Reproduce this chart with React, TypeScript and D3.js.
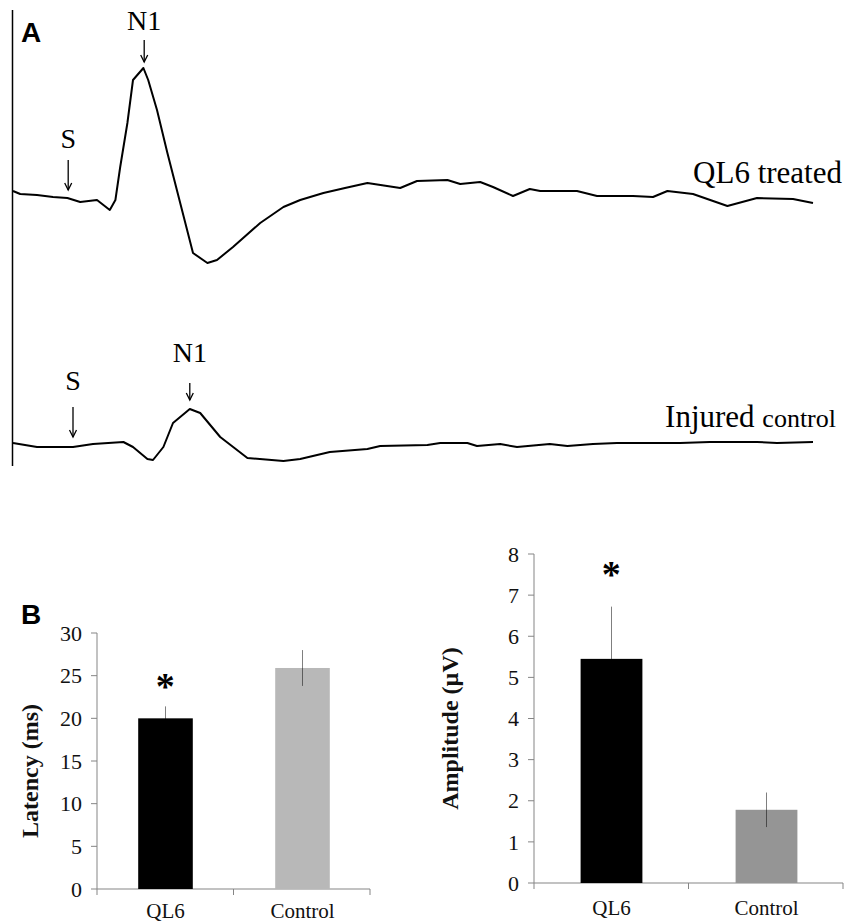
import React from "react";
import * as d3 from "d3";

// ---- panel A: evoked potential traces (time in ms, amplitude in arbitrary units)
const treatedTime = [0, 0.9, 3, 5, 6.8, 8.4, 10.5, 12.1, 12.8, 13.4, 14.3, 15.0, 16.3, 16.9, 18.0, 19.3, 20.9, 22.5, 24.3, 25.5, 27.5, 30.9, 33.8, 35.9, 38.8, 41.5, 44.3, 48.4, 50.5, 54.3, 55.9, 58.4, 60.0, 62.5, 64.6, 65.9, 70.5, 73.0, 77.5, 80, 81.8, 85, 89.3, 93, 97.5, 100];
const treatedAmp = [0, -0.3, -0.4, -0.6, -0.7, -1.1, -0.9, -1.9, -0.9, 2.4, 6.8, 11.1, 12.3, 11.1, 8.1, 3.8, -1.2, -6.2, -7.2, -6.9, -5.6, -3.2, -1.6, -0.9, -0.2, 0.3, 0.8, 0.3, 1.0, 1.1, 0.7, 0.9, 0.4, -0.5, 0.2, 0, 0, -0.5, -0.5, -0.6, 0, -0.3, -1.5, -0.7, -0.8, -1.2];

const controlTime = [0, 3, 7.5, 10, 13.8, 15, 16.8, 17.5, 18.8, 20, 22.1, 23.4, 25.9, 29.3, 33.8, 35.9, 39.6, 44.3, 45.9, 51.8, 53.4, 56.8, 58, 60.9, 63, 67.1, 69.3, 72.5, 75.5, 83.4, 87.1, 93, 95.5, 100];
const controlAmp = [0, -0.4, -0.4, -0.1, 0.1, -0.4, -1.6, -1.7, -0.4, 2.0, 3.4, 3.0, 0.6, -1.5, -1.8, -1.6, -0.9, -0.6, -0.3, -0.2, 0, 0, -0.3, -0.1, -0.4, -0.1, -0.3, -0.1, 0, 0, 0.1, 0.1, 0, 0.1];

// stimulus (S) and N1 marker times
const treatedMarks = [6.9, 16.4];
const controlMarks = [7.5, 22.1];

// ---- panel B: bar charts
const groups = ["QL6", "Control"];
const latency = [20, 25.9];
const latencyErr = [1.4, 2.1];
const latencyTicks = [0, 5, 10, 15, 20, 25, 30];
const amplitude = [5.45, 1.78];
const amplitudeErr = [1.27, 0.42];
const amplitudeTicks = [0, 1, 2, 3, 4, 5, 6, 7, 8];

const serif = "'Liberation Serif', 'Times New Roman', serif";
const sans = "'Liberation Sans', Arial, sans-serif";

function Arrow({ x, y1, y2 }: { x: number; y1: number; y2: number }) {
  return (
    <g stroke="#000" strokeWidth={1.3} fill="none">
      <line x1={x} x2={x} y1={y1} y2={y2} />
      <path d={`M${x - 3.5},${y2 - 7} L${x},${y2} L${x + 3.5},${y2 - 7}`} />
    </g>
  );
}

function BarPanel(props: {
  x0: number; x1: number; yTop: number; yBottom: number;
  max: number; ticks: number[]; values: number[]; errs: number[];
  colors: string[]; label: string; labelX: number; starY: number; catY: number;
}) {
  const { x0, x1, yTop, yBottom, max, ticks, values, errs, colors, label, labelX, starY, catY } = props;
  const x = d3.scaleBand().domain(groups).range([x0, x1]).padding(0);
  const y = d3.scaleLinear().domain([0, max]).range([yBottom, yTop]);
  const bw = x.bandwidth() * 0.4;
  const axis = "#858585";
  const bounds = [x0, ...groups.map((g) => (x(g) as number) + x.bandwidth())];
  return (
    <g>
      {ticks.map((t) => (
        <g key={t} transform={`translate(0,${y(t)})`}>
          <line x1={x0 - 6} x2={x0} stroke={axis} strokeWidth={1} />
          <text x={x0 - 15} dy="0.35em" textAnchor="end" fontFamily={serif} fontSize={22} fill="#111">{t}</text>
        </g>
      ))}
      <line x1={x0} x2={x0} y1={yTop} y2={yBottom} stroke={axis} strokeWidth={1} />
      <line x1={x0} x2={x1} y1={yBottom} y2={yBottom} stroke={axis} strokeWidth={1.2} />
      {bounds.map((b, i) => (
        <line key={i} x1={b} x2={b} y1={yBottom} y2={yBottom + 6} stroke={axis} strokeWidth={1} />
      ))}
      {groups.map((g, i) => {
        const cx = Math.round((x(g) as number) + x.bandwidth() / 2) + 0.5;
        return (
          <g key={g}>
            <rect x={cx - bw / 2} width={bw} y={y(values[i])} height={yBottom - y(values[i])} fill={colors[i]} />
            <line x1={cx} x2={cx} y1={y(values[i] - errs[i])} y2={y(values[i] + errs[i])} stroke="#000" strokeWidth={1} strokeOpacity={0.5} />
            <text x={cx} y={catY} textAnchor="middle" fontFamily={serif} fontSize={21} fill="#111">{g}</text>
          </g>
        );
      })}
      <text x={(x(groups[0]) as number) + x.bandwidth() / 2} y={starY} textAnchor="middle" fontFamily={serif} fontWeight="bold" fontSize={38}>*</text>
      <text transform={`translate(${labelX},${(yTop + yBottom) / 2 + 10}) rotate(-90)`} textAnchor="middle" fontFamily={serif} fontWeight="bold" fontSize={24} fill="#111">{label}</text>
    </g>
  );
}

export default function App() {
  const xTrace = d3.scaleLinear().domain([0, 100]).range([13, 813]);
  const yTreated = d3.scaleLinear().domain([-8, 13]).range([271, 61]);
  const yControl = d3.scaleLinear().domain([-3, 5]).range([473, 393]);

  const lineT = d3.line<number>().x((_, i) => xTrace(treatedTime[i])).y((d) => yTreated(d));
  const lineC = d3.line<number>().x((_, i) => xTrace(controlTime[i])).y((d) => yControl(d));

  const sT = xTrace(treatedMarks[0]);
  const nT = xTrace(treatedMarks[1]);
  const sC = xTrace(controlMarks[0]);
  const nC = xTrace(controlMarks[1]);

  return (
    <svg width={845} height={924} style={{ position: "absolute", left: 0, top: 0, background: "#fff" }}>
      {/* Panel A */}
      <text x={21} y={42} fontFamily={sans} fontWeight="bold" fontSize={28}>A</text>
      <line x1={12.5} x2={12.5} y1={10} y2={466} stroke="#000" strokeWidth={1.5} />
      <path d={lineT(treatedAmp) || ""} fill="none" stroke="#000" strokeWidth={2} strokeLinejoin="round" />
      <path d={lineC(controlAmp) || ""} fill="none" stroke="#000" strokeWidth={2} strokeLinejoin="round" />

      <text x={sT} y={148} textAnchor="middle" fontFamily={serif} fontSize={28}>S</text>
      <Arrow x={sT} y1={160} y2={190} />
      <text x={nT} y={30} textAnchor="middle" fontFamily={serif} fontSize={28}>N1</text>
      <Arrow x={nT} y1={40} y2={62} />
      <text x={842} y={183} textAnchor="end" fontFamily={serif} fontSize={31}>QL6 treated</text>

      <text x={sC} y={390} textAnchor="middle" fontFamily={serif} fontSize={28}>S</text>
      <Arrow x={sC} y1={407} y2={437} />
      <text x={nC} y={362} textAnchor="middle" fontFamily={serif} fontSize={28}>N1</text>
      <Arrow x={nC} y1={383} y2={400} />
      <text x={836} y={427} textAnchor="end" fontFamily={serif} fill="#000">
        <tspan fontSize={31}>Injured </tspan>
        <tspan fontSize={26}>control</tspan>
      </text>

      {/* Panel B */}
      <text x={21} y={624} fontFamily={sans} fontWeight="bold" fontSize={28}>B</text>
      <BarPanel x0={97} x1={370} yTop={633} yBottom={889} max={30} ticks={latencyTicks}
        values={latency} errs={latencyErr} colors={["#000", "#b8b8b8"]}
        label="Latency (ms)" labelX={38} starY={699} catY={918} />
      <BarPanel x0={534} x1={843} yTop={554} yBottom={883} max={8} ticks={amplitudeTicks}
        values={amplitude} errs={amplitudeErr} colors={["#000", "#959595"]}
        label="Amplitude (µV)" labelX={458} starY={587} catY={915} />
    </svg>
  );
}
